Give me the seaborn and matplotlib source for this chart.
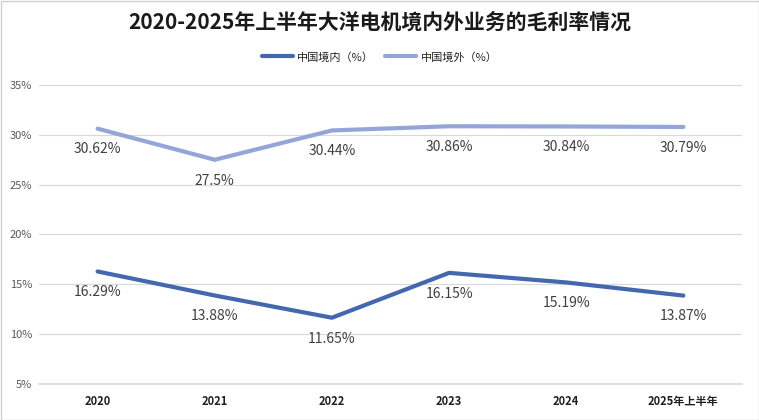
import matplotlib
matplotlib.use("Agg")
import matplotlib.pyplot as plt
import seaborn as sns
import pandas as pd
from matplotlib.ticker import FuncFormatter
from matplotlib.patches import Rectangle
from matplotlib.lines import Line2D

categories = ["2020", "2021", "2022", "2023", "2024", "2025年上半年"]
domestic = [16.29, 13.88, 11.65, 16.15, 15.19, 13.87]
overseas = [30.62, 27.5, 30.44, 30.86, 30.84, 30.79]
domestic_labels = ["16.29%", "13.88%", "11.65%", "16.15%", "15.19%", "13.87%"]
overseas_labels = ["30.62%", "27.5%", "30.44%", "30.86%", "30.84%", "30.79%"]
series_names = ["中国境内（%）", "中国境外（%）"]
title = "2020-2025年上半年大洋电机境内外业务的毛利率情况"

sns.set_theme(style="white")
plt.rcParams['font.family'] = ['Noto Sans CJK SC', 'DejaVu Sans']

fig = plt.figure(figsize=(7.59, 4.20), dpi=100)
ax = fig.add_axes([39/759, 1-384/420, (742-39)/759, (384-85)/420])

df = pd.DataFrame({
    "cat": categories * 2,
    "x": list(range(len(categories))) * 2,
    "val": domestic + overseas,
    "series": [series_names[0]] * len(categories) + [series_names[1]] * len(categories),
})
colors = {series_names[0]: "#4468B0", series_names[1]: "#94A6D8"}
sns.lineplot(data=df, x="x", y="val", hue="series", palette=colors, linewidth=3,
             ax=ax, legend=False, sort=False)

for i, (v, lab) in enumerate(zip(domestic, domestic_labels)):
    ax.annotate(lab, (i, v), xytext=(0, -15), textcoords="offset points",
                ha="center", va="center", fontsize=10, color="#404040")
for i, (v, lab) in enumerate(zip(overseas, overseas_labels)):
    ax.annotate(lab, (i, v), xytext=(0, -15), textcoords="offset points",
                ha="center", va="center", fontsize=10, color="#404040")

ax.set_xlim(-0.5, len(categories) - 0.5)
ax.set_ylim(5, 35)
ax.set_yticks([5, 10, 15, 20, 25, 30, 35])
ax.yaxis.set_major_formatter(FuncFormatter(lambda v, p: f"{int(v)}%"))
ax.set_xticks(range(len(categories)))
ax.set_xticklabels(categories, fontweight="bold", fontsize=8, color="#202020")
ax.tick_params(axis="y", labelsize=8, labelcolor="#595959", length=0, pad=5)
ax.tick_params(axis="x", length=0, pad=8)
ax.grid(axis="y", color="#d9d9d9", linewidth=0.8)
for s in ["top", "right", "left"]:
    ax.spines[s].set_visible(False)
ax.spines["bottom"].set_color("#d9d9d9")
ax.set_xlabel("")
ax.set_ylabel("")

fig.text(0.5, 1-22/420, title, ha="center", va="center", fontsize=15, fontweight="bold", color="#1a1a1a")

handles = [Line2D([0], [0], color=colors[n], linewidth=3) for n in series_names]
fig.legend(handles, series_names, loc="center", bbox_to_anchor=(0.5, 1-57/420), ncol=2,
           frameon=False, fontsize=8, handlelength=2.8, columnspacing=1.0, handletextpad=0.4)

fig.patches.append(Rectangle((0.5/759, 0.5/420), 1-1/759, 1-1/420, transform=fig.transFigure,
                             fill=False, edgecolor="#d0d0d0", linewidth=1))

fig.savefig("out.png", dpi=100)
